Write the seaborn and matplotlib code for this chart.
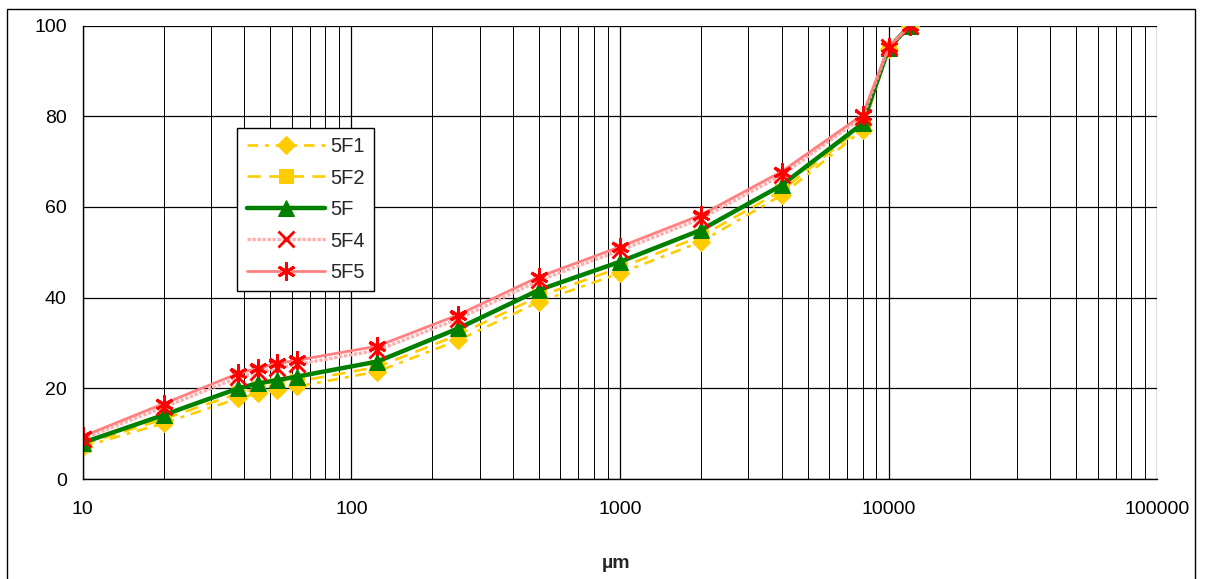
import matplotlib
matplotlib.use("Agg")
import matplotlib.pyplot as plt
from matplotlib.patches import Rectangle
from matplotlib.ticker import LogLocator, FixedLocator, NullFormatter
import seaborn as sns
import pandas as pd

# Particle size (µm) and cumulative passing (%)
sizes = [10, 20, 38, 45, 53, 63, 125, 250, 500, 1000, 2000, 4000, 8000, 10000, 12000]
s_5F1 = [7.1, 12.3, 17.8, 18.9, 19.6, 20.4, 23.7, 30.6, 39.1, 45.4, 52.3, 62.6, 77.0, 94.8, 100]
s_5F2 = [7.6, 13.2, 18.9, 20.0, 20.7, 21.5, 24.7, 31.8, 40.3, 46.6, 53.5, 63.6, 77.8, 95.0, 100]
s_5F = [8.0, 14.1, 20.0, 21.1, 21.8, 22.6, 25.9, 33.2, 41.7, 47.9, 54.9, 64.8, 78.4, 95.0, 100]
s_5F4 = [8.9, 15.8, 22.4, 23.5, 24.5, 25.3, 28.4, 35.3, 43.8, 50.4, 57.4, 67.0, 79.8, 95.2, 100]
s_5F5 = [9.4, 16.6, 23.3, 24.4, 25.5, 26.2, 29.3, 36.2, 44.6, 51.2, 58.2, 67.8, 80.3, 95.2, 100]

series_names = ["5F1", "5F2", "5F", "5F4", "5F5"]
series_values = [s_5F1, s_5F2, s_5F, s_5F4, s_5F5]
y_ticks = [0, 20, 40, 60, 80, 100]
x_ticks = [10, 100, 1000, 10000, 100000]
x_tick_labels = ["10", "100", "1000", "10000", "100000"]

sns.set_style("white")
plt.rcParams["font.family"] = ["Liberation Sans", "DejaVu Sans"]

df = pd.DataFrame({
    "size": sizes * len(series_names),
    "passing": [v for vals in series_values for v in vals],
    "series": [n for n in series_names for _ in sizes],
})

styles = {
    "5F1": dict(color="#FFCC00", lw=1.9, linestyle=(0, (4, 2.6, 1.5, 2.6)),
                marker="D", ms=9.5, mfc="#FFCC00", mec="#FFCC00"),
    "5F2": dict(color="#FFCC00", lw=1.9, linestyle=(0, (5, 3.2)),
                marker="s", ms=10, mfc="#FFCC00", mec="#FFCC00"),
    "5F": dict(color="#008000", lw=3.2, linestyle="-",
               marker="^", ms=11, mfc="#008000", mec="#008000"),
    "5F4": dict(color="#FFADAD", lw=2.4, linestyle=(0, (1, 0.5)),
                marker="x", ms=11, mew=2, mfc="#FF0000", mec="#FF0000"),
    "5F5": dict(color="#FF8080", lw=2.0, linestyle="-",
                marker=(6, 2, 0), ms=13, mew=2, mfc="#FF0000", mec="#FF0000"),
}

fig = plt.figure(figsize=(12.08, 5.79), dpi=100)
ax = fig.add_axes([82.7 / 1208, 100 / 579, 1074.6 / 1208, 453.5 / 579])

for name in series_names:
    sub = df[df["series"] == name]
    sns.lineplot(data=sub, x="size", y="passing", ax=ax, label=name,
                 estimator=None, sort=False, **styles[name])

ax.set_xscale("log")
ax.set_xlim(10, 100000)
ax.set_ylim(0, 100)

ax.xaxis.set_major_locator(FixedLocator(x_ticks))
ax.set_xticklabels(x_tick_labels)
ax.xaxis.set_minor_locator(LogLocator(base=10, subs=range(2, 10)))
ax.xaxis.set_minor_formatter(NullFormatter())
ax.set_yticks(y_ticks)

ax.grid(True, which="major", axis="both", color="black", lw=0.9)
ax.grid(True, which="minor", axis="x", color="black", lw=0.7)
ax.set_axisbelow(True)

for side in ["top", "right"]:
    ax.spines[side].set_visible(False)
for side in ["left", "bottom"]:
    ax.spines[side].set_color("black")
    ax.spines[side].set_linewidth(1.0)

ax.tick_params(axis="both", which="major", direction="out", length=4.5,
               width=0.9, color="black", labelsize=14, labelcolor="black")
ax.tick_params(axis="x", which="major", pad=11)
ax.tick_params(axis="y", which="major", pad=7)
ax.tick_params(axis="x", which="minor", length=0)

ax.set_xlabel("")
ax.set_ylabel("")
fig.text(616 / 1208, (579 - 563) / 579, "µm", ha="center", va="center",
         fontsize=14, fontweight="bold")

leg = ax.legend(loc="upper left", bbox_to_anchor=(0.144, 0.774),
                borderaxespad=0, fontsize=14.5, handlelength=3.9,
                labelspacing=0.62, handletextpad=0.25, borderpad=0.45,
                fancybox=False, framealpha=1, edgecolor="black")
leg.get_frame().set_linewidth(1.0)

# Outer chart border
fig.patches.append(Rectangle((7 / 1208, -0.01), 1188 / 1208, (579 - 9) / 579 + 0.01,
                             transform=fig.transFigure, fill=False,
                             edgecolor="black", lw=1.0, clip_on=False))

fig.savefig("out.png", dpi=100)
